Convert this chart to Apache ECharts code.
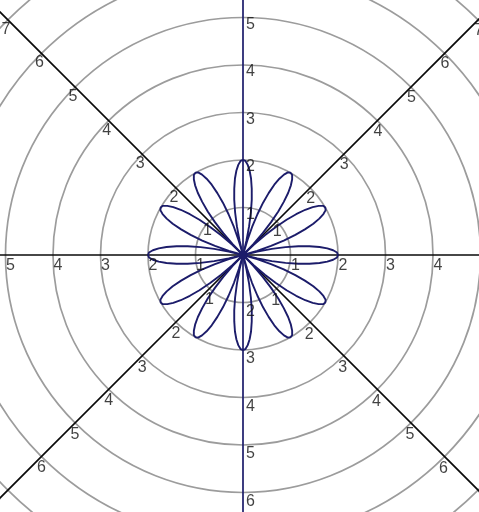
<!DOCTYPE html>
<html><head><meta charset="utf-8">
<script src="https://cdn.jsdelivr.net/npm/echarts@6/dist/echarts.min.js"></script>
<style>html,body{margin:0;padding:0;background:#fff;overflow:hidden}#c{width:479px;height:512px}</style>
</head><body><div id="c"></div>
<script>
// Petal axis directions (degrees, counter-clockwise from +x)
const PETAL_DIRECTIONS = [0, 30, 60, 90, 120, 150, 180, 210, 240, 270, 300, 330];
// One petal's outline: angular offset from the petal axis (deg) and radius
const PETAL_OFFSETS = [-15, -13.5, -12, -10.5, -9, -7.5, -6, -4.5, -3, -1.5, 0, 1.5, 3, 4.5, 6, 7.5, 9, 10.5, 12, 13.5, 15];
const PETAL_RADII   = [0, 0.31, 0.62, 0.91, 1.18, 1.41, 1.62, 1.78, 1.9, 1.98, 2, 1.98, 1.9, 1.78, 1.62, 1.41, 1.18, 0.91, 0.62, 0.31, 0];

// Tick labels along each spoke (radius where the label sits, text shown)
const RIGHT_RADII = [1, 2, 3, 4];          const RIGHT_LABELS = ['1', '2', '3', '4'];
const LEFT_RADII  = [1, 2, 3, 4, 5];       const LEFT_LABELS  = ['1', '2', '3', '4', '5'];
const UP_RADII    = [1, 2, 3, 4, 5];       const UP_LABELS    = ['1', '2', '3', '4', '5'];
const DOWN_RADII  = [1, 2, 3, 4, 5];       const DOWN_LABELS  = ['2', '3', '4', '5', '6'];
const NE_RADII    = [1, 2, 3, 4, 5, 6, 7]; const NE_LABELS    = ['1', '2', '3', '4', '5', '6', '7'];
const NW_RADII    = [1, 2, 3, 4, 5, 6, 7]; const NW_LABELS    = ['1', '2', '3', '4', '5', '6', '7'];
const SW_RADII    = [1, 2, 3, 4, 5, 6];    const SW_LABELS    = ['1', '2', '3', '4', '5', '6'];
const SE_RADII    = [1, 2, 3, 4, 5, 6];    const SE_LABELS    = ['1', '2', '3', '4', '5', '6'];

const NAVY = '#1c1c6a';
const chart = echarts.init(document.getElementById('c'), null, {renderer: 'canvas'});

const roseData = [];
PETAL_DIRECTIONS.forEach(d => {
  PETAL_OFFSETS.forEach((o, i) => roseData.push([PETAL_RADII[i], (d + o + 360) % 360]));
});

function labelSeries(angle, radii, labels, dx, dy) {
  return {
    type: 'scatter', coordinateSystem: 'polar', silent: true, z: 5,
    symbol: 'circle', symbolSize: 1, itemStyle: {color: 'rgba(0,0,0,0)'},
    label: {
      show: true, position: 'inside', offset: [dx, dy], formatter: p => p.name,
      fontSize: 16, fontFamily: '"Liberation Sans", Arial, sans-serif', color: '#111'
    },
    data: radii.map((r, i) => ({name: labels[i], value: [r, angle]}))
  };
}

chart.setOption({
  animation: false,
  backgroundColor: '#fff',
  polar: {center: [243, 255], radius: 380},
  angleAxis: {
    type: 'value', min: 0, max: 360, interval: 45, startAngle: 0, clockwise: false,
    axisLine: {show: false}, axisTick: {show: false}, axisLabel: {show: false},
    splitLine: {show: true, lineStyle: {width: 1.7,
      color: ['#0a0a0a', '#0a0a0a', NAVY, '#0a0a0a', '#0a0a0a', '#0a0a0a', NAVY, '#0a0a0a']}}
  },
  radiusAxis: {
    type: 'value', min: 0, max: 8, interval: 1,
    axisLine: {show: false}, axisTick: {show: false}, axisLabel: {show: false},
    splitLine: {show: true, lineStyle: {color: '#9c9c9c', width: 1.7}}
  },
  series: [
    {type: 'line', coordinateSystem: 'polar', data: roseData, showSymbol: false, symbol: 'none',
     silent: true, z: 3, lineStyle: {color: NAVY, width: 1.9}},
    labelSeries(0, RIGHT_RADII, RIGHT_LABELS, 5, 11),
    labelSeries(180, LEFT_RADII, LEFT_LABELS, 5, 11),
    labelSeries(90, UP_RADII, UP_LABELS, 7.5, 7),
    labelSeries(270, DOWN_RADII, DOWN_LABELS, 7.5, 9),
    labelSeries(45, NE_RADII, NE_LABELS, 0.5, 10.5),
    labelSeries(135, NW_RADII, NW_LABELS, -2, 9.5),
    labelSeries(225, SW_RADII, SW_LABELS, 0, 11.5),
    labelSeries(315, SE_RADII, SE_LABELS, -1, 12)
  ]
});
</script></body></html>
